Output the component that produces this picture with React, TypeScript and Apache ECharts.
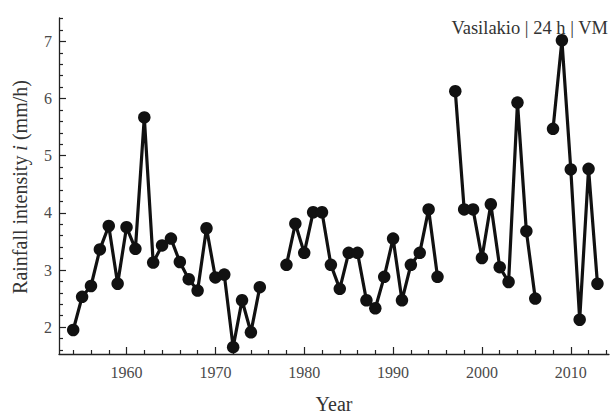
import React, { useEffect, useRef } from "react";
import * as echarts from "echarts";

const years = [
  1954, 1955, 1956, 1957, 1958, 1959, 1960, 1961, 1962, 1963, 1964, 1965, 1966, 1967, 1968, 1969,
  1970, 1971, 1972, 1973, 1974, 1975, 1976, 1977, 1978, 1979, 1980, 1981, 1982, 1983, 1984, 1985,
  1986, 1987, 1988, 1989, 1990, 1991, 1992, 1993, 1994, 1995, 1996, 1997, 1998, 1999, 2000, 2001,
  2002, 2003, 2004, 2005, 2006, 2007, 2008, 2009, 2010, 2011, 2012, 2013,
];
const intensity: (number | null)[] = [
  1.95, 2.53, 2.72, 3.36, 3.77, 2.76, 3.75, 3.37, 5.67, 3.13, 3.43, 3.55, 3.14, 2.84, 2.64, 3.73,
  2.87, 2.92, 1.65, 2.47, 1.91, 2.7, null, null, 3.09, 3.81, 3.3, 4.01, 4.01, 3.09, 2.67, 3.3,
  3.3, 2.47, 2.33, 2.88, 3.55, 2.47, 3.09, 3.3, 4.06, 2.88, null, 6.13, 4.06, 4.06, 3.21, 4.15,
  3.05, 2.79, 5.93, 3.68, 2.5, null, 5.47, 7.02, 4.76, 2.13, 4.77, 2.76,
];
const xMajorTicks = [1960, 1970, 1980, 1990, 2000, 2010];
const xMinorTicks = [
  1954, 1956, 1958, 1962, 1964, 1966, 1968, 1972, 1974, 1976, 1978, 1982, 1984, 1986, 1988, 1992,
  1994, 1996, 1998, 2002, 2004, 2006, 2008, 2012, 2014,
];
const yMajorTicks = [2, 3, 4, 5, 6, 7];
const yMinorTicks = [
  1.6, 1.8, 2.2, 2.4, 2.6, 2.8, 3.2, 3.4, 3.6, 3.8, 4.2, 4.4, 4.6, 4.8, 5.2, 5.4, 5.6, 5.8, 6.2,
  6.4, 6.6, 6.8, 7.2, 7.4,
];
const xRange = [1952.4, 2014.3];
const yRange = [1.53, 7.41];

const serif = "'Liberation Serif', 'DejaVu Serif', serif";

export default function App() {
  const ref = useRef<HTMLDivElement>(null);
  useEffect(() => {
    if (!ref.current) return;
    const chart = echarts.init(ref.current, undefined, { renderer: "svg" });
    const axisLine = { show: true, lineStyle: { color: "#222", width: 1.3 } };
    chart.setOption({
      animation: false,
      backgroundColor: "#fff",
      grid: { left: 59, right: 2, top: 18, bottom: 62 },
      xAxis: [
        {
          type: "value",
          min: xRange[0],
          max: xRange[1],
          axisLine,
          splitLine: { show: false },
          axisTick: {
            show: true,
            inside: true,
            length: 7,
            customValues: xMajorTicks,
            lineStyle: { color: "#222", width: 1.2 },
          },
          axisLabel: {
            show: true,
            customValues: xMajorTicks,
            formatter: (v: number) => String(v),
            margin: 10,
            fontFamily: serif,
            fontSize: 16,
            color: "#4a4a4a",
          },
        },
        {
          type: "value",
          min: xRange[0],
          max: xRange[1],
          position: "bottom",
          axisLine: { show: false },
          splitLine: { show: false },
          axisTick: {
            show: true,
            inside: true,
            length: 4,
            customValues: xMinorTicks,
            lineStyle: { color: "#222", width: 1.2 },
          },
          axisLabel: { show: false },
        },
      ],
      yAxis: [
        {
          type: "value",
          min: yRange[0],
          max: yRange[1],
          axisLine,
          splitLine: { show: false },
          axisTick: {
            show: true,
            inside: true,
            length: 7,
            customValues: yMajorTicks,
            lineStyle: { color: "#222", width: 1.2 },
          },
          axisLabel: {
            show: true,
            customValues: yMajorTicks,
            formatter: (v: number) => String(v),
            margin: 7,
            fontFamily: serif,
            fontSize: 16,
            color: "#4a4a4a",
          },
        },
        {
          type: "value",
          min: yRange[0],
          max: yRange[1],
          position: "left",
          axisLine: { show: false },
          splitLine: { show: false },
          axisTick: {
            show: true,
            inside: true,
            length: 4,
            customValues: yMinorTicks,
            lineStyle: { color: "#222", width: 1.2 },
          },
          axisLabel: { show: false },
        },
      ],
      series: [
        {
          type: "line",
          xAxisIndex: 0,
          yAxisIndex: 0,
          data: years.map((y, i) => [y, intensity[i]]),
          connectNulls: false,
          symbol: "circle",
          symbolSize: 12.5,
          showSymbol: true,
          lineStyle: { color: "#111", width: 3.2 },
          itemStyle: { color: "#111" },
        },
      ],
      graphic: [
        {
          type: "text",
          x: 608,
          y: 28,
          style: {
            text: "Vasilakio | 24 h | VM",
            font: `18.5px ${serif}`,
            fill: "#333",
            textAlign: "right",
            textVerticalAlign: "middle",
          },
        },
        {
          type: "text",
          x: 334,
          y: 404,
          style: {
            text: "Year",
            font: `20px ${serif}`,
            fill: "#333",
            textAlign: "center",
            textVerticalAlign: "middle",
          },
        },
        {
          type: "text",
          x: 20,
          y: 187,
          rotation: Math.PI / 2,
          style: {
            text: "Rainfall intensity {i|i} (mm/h)",
            font: `20px ${serif}`,
            fill: "#333",
            textAlign: "center",
            textVerticalAlign: "middle",
            rich: {
              i: { fontStyle: "italic", fontFamily: serif, fontSize: 20, fill: "#333" },
            },
          },
        },
      ],
    });
    return () => chart.dispose();
  }, []);
  return (
    <div
      ref={ref}
      style={{ position: "absolute", left: 0, top: 0, width: 611, height: 416, background: "#fff" }}
    />
  );
}
